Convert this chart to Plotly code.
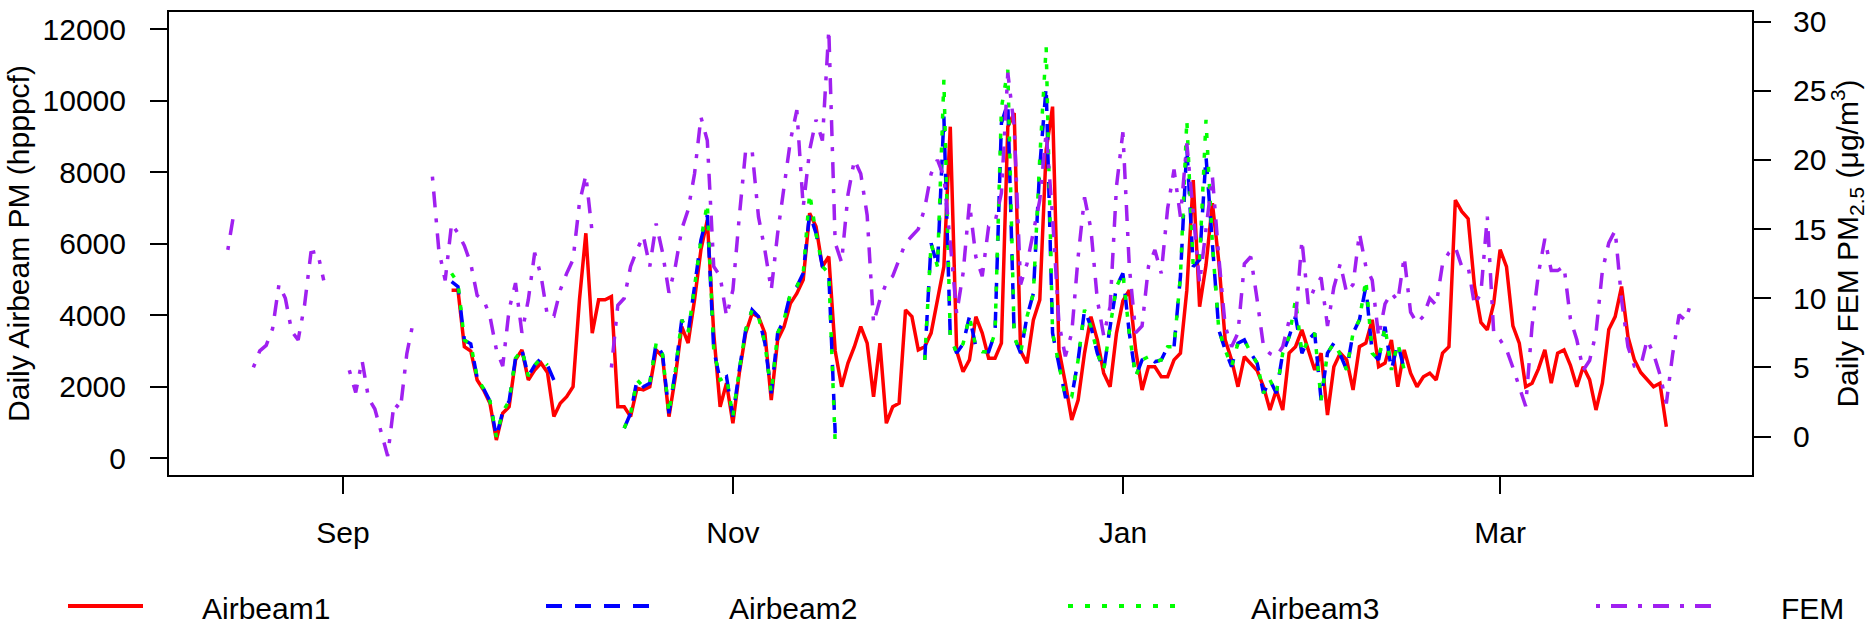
import pandas as pd
import plotly.graph_objects as go

# ---------------- data (daily means) ----------------
fem_start = "2016-08-14"
fem_pm25 = [
    # Aug 14 - Aug 31
    13.5, 16.3, None, None, 5.0, 6.2, 6.6, 7.8, 11.0, 10.0, 7.6, 7.0, 9.5, 13.3, 13.4, 11.3, None, None,
    # Sep
    None, 4.8, 3.2, 5.5, 2.8, 2.0, 0.4, -1.4, 2.4, 2.0, 6.0, 8.3, None, None, 18.8, 13.5, 11.3, 15.4,
    14.7, 13.8, 12.5, 10.2, 9.9, 8.7, 6.3, 5.1, 9.2, 11.1, 7.5, 9.9,
    # Oct
    13.3, 11.6, 8.7, 8.7, 10.6, 11.8, 12.8, 16.9, 18.9, 14.7, None, None, 5.0, 9.5, 10.0, 12.3,
    13.5, 14.5, 12.3, 15.4, 13.3, 10.4, 12.3, 15.0, 16.4, 19.0, 23.1, 21.4, 12.3, 11.6, 8.7,
    # Nov
    10.6, 15.9, 20.7, 20.7, 15.9, 13.5, 10.6, 14.7, 18.1, 21.4, 23.6, 16.6, 20.7, 22.9, 21.4,
    29.4, 14.0, 12.6, 17.5, 20.0, 19.0, 16.0, 8.2, 9.9, 11.1, 11.6, 12.8, 14.0, 14.5, 15.0,
    # Dec
    16.5, 19.0, 20.0, 18.8, 14.0, 8.9, 11.8, 16.9, 13.0, 11.6, 15.2, 15.5, 17.6, 26.3, 22.4,
    11.0, 12.5, 14.7, 17.1, 22.0, 15.9, 8.2, 5.8, 7.5, 13.0, 17.3, 15.0, 9.9, 7.3, 9.4, 18.1,
    # Jan
    22.0, 12.3, 7.5, 8.0, 12.3, 13.5, 11.8, 16.5, 19.3, 15.9, 21.2, 16.0, 11.1, 15.0, 18.8,
    13.0, 8.0, 6.5, 7.5, 12.5, 13.0, 9.9, 6.5, 6.0, 5.8, 6.5, 8.4, 8.4, 14.2, 9.6, 10.8,
    # Feb
    11.5, 8.0, 10.8, 12.5, 10.4, 11.0, 14.7, 12.3, 11.3, 7.2, 9.6, 10.4, 9.8, 13.0, 9.0,
    8.2, 8.7, 10.0, 9.5, 12.5, 13.3, 13.7, 12.3, 12.3, 9.5, 10.4, 15.9, 7.5,
    # Mar
    7.0, 6.3, 5.0, 3.6, 2.2, 8.0, 11.8, 14.3, 12.0, 12.0, 12.3, 8.5, 7.0, 4.8, 5.5, 7.5,
    12.0, 14.0, 14.9, 9.9, 6.5, 5.1, 5.1, 7.0, 6.0, 4.5, 2.4, 6.0, 8.8, 8.4, 9.9,
]

airbeam_start = "2016-09-18"
airbeam1 = [
    # Sep 18 - 30
    4700, 4700, 3120, 3000, 2190, 1910, 1540, 510, 1260, 1440, 2750, 3030, 2190,
    # Oct
    2470, 2660, 2400, 1165, 1540, 1720, 2000, 4430, 6290, 3500, 4430, 4430, 4520, 1440, 1440,
    1165, 1960, 1910, 2000, 3030, 2840, 1165, 2280, 3680, 3220, 4430, 5830, 6660, 3500, 1440, 2100,
    # Nov
    980, 2380, 3500, 4050, 3960, 3500, 1630, 3310, 3680, 4330, 4610, 4990, 6850, 6480, 5360,
    5640, 3000, 2000, 2660, 3120, 3680, 3220, 1720, 3220, 980, 1440, 1540, 4150, 3960, 3030,
    # Dec
    3120, 3500, 4430, 5360, 9270, 3000, 2420, 2750, 3960, 3500, 2800, 2800, 3220, 9270, 9650,
    3000, 2660, 3870, 4430, 8620, 9830, 3030, 2100, 1070, 1630, 2940, 3960, 3310, 2380, 2000, 3500,
    # Jan
    4400, 4700, 3030, 1910, 2560, 2560, 2280, 2280, 2750, 2940, 4700, 7780, 4240, 5400, 7130,
    5500, 3310, 2750, 2000, 2840, 2650, 2450, 2000, 1350, 1910, 1350, 2940, 3120, 3590, 3030, 2470,
    # Feb
    2940, 1210, 2560, 2940, 2750, 1910, 3120, 3220, 3870, 2560, 2660, 3310, 2000, 3030, 2380,
    2000, 2280, 2380, 2190, 2940, 3120, 7220, 6900, 6700, 4800, 3800, 3590, 4330,
    # Mar 1 - 27
    5830, 5360, 3700, 3220, 2000, 2100, 2500, 3030, 2100, 2940, 3030, 2600, 2000, 2560, 2200,
    1350, 2100, 3600, 3960, 4800, 3400, 2750, 2400, 2190, 2000, 2100, 885,
]

airbeam2 = [
    # Sep 18 - 30
    4940, 4800, 3300, 3200, 2250, 1950, 1600, 600, 1300, 1600, 2800, 3030, 2300,
    # Oct
    2600, 2800, 2600, 2190, None, None, None, None, None, None, None, None, None, None,
    840, 1260, 2190, 2000, 2100, 3220, 2900, 1260, 2450, 3870, 3500, 4890, 6100, 6800, 3030, 2190, 2280,
    # Nov
    1165, 2470, 3590, 4150, 3960, 3220, 1820, 3500, 3870, 4610, 4800, 5170, 6850, 6290, 5360,
    5170, 700, None, None, None, None, None, None, None, None, None, None, None, None,
    # Dec
    None, 2750, 6010, 5360, 9550, 3400, 2940, 3200, 3960, 3120, 2980, 2980, 3500, 9370, 9930,
    3400, 2940, 3960, 4610, 8160, 10390, 3500, 2560, 1720, 1720, 2750, 4150, 3680, 2940, 2470, 3680,
    # Jan
    4800, 5170, 3500, 2280, 2750, 2840, 2700, 2750, 3120, 3120, 5080, 8710, 5360, 5550, 8440,
    6000, 3590, 3030, 2560, 3220, 3310, 2940, 2660, 1820, 2190, 1820, 2940, 3400, 3960, 2940, 3310,
    # Feb 1 - 15
    3500, 1630, 2940, 3220, 2900, 2470, 3500, 3870, 4800, 2940, 2750, 3680, 2470, 3220, 2470,
]

airbeam3 = [
    # Sep 18 - 30
    5170, 4900, 3300, 3200, 2250, 1950, 1600, 600, 1300, 1600, 2800, 3030, 2300,
    # Oct
    2600, 2800, 2600, None, None, None, None, None, None, None, None, None, None, None,
    840, 1260, 2190, 2000, 2100, 3220, 2900, 1260, 2450, 3870, 3500, 4890, 6100, 7130, 3030, 2190, 2280,
    # Nov
    1165, 2470, 3590, 4150, 3960, 3220, 1820, 3500, 3870, 4610, 4800, 5170, 7410, 6290, 5360,
    5170, 420, None, None, None, None, None, None, None, None, None, None, None, None,
    # Dec
    None, 2750, 6010, 5360, 10580, 3400, 2940, 3200, 3960, 3120, 2980, 2980, 3500, 9800, 10860,
    3400, 2940, 3960, 4610, 8400, 11510, 3500, 2560, 1720, 1720, 2750, 4150, 3680, 2940, 2470, 3680,
    # Jan
    4800, 5170, 3500, 2280, 2750, 2840, 2700, 2750, 3120, 3120, 5080, 9460, 5360, 5550, 9460,
    6000, 3590, 3030, 2560, 3220, 3310, 2940, 2660, 1820, 2190, 1820, 2940, 3400, 4430, 2940, 3310,
    # Feb 1 - 15
    3500, 1630, 2940, 3220, 2900, 2470, 3500, 3870, 4990, 2940, 2750, 3680, 2470, 3220, 2470,
]

month_ticks = ["2016-09-01", "2016-11-01", "2017-01-01", "2017-03-01"]
month_labels = ["Sep", "Nov", "Jan", "Mar"]
left_ticks = [0, 2000, 4000, 6000, 8000, 10000, 12000]
left_labels = ["0", "2000", "4000", "6000", "8000", "10000", "12000"]
right_ticks = [0, 5, 10, 15, 20, 25, 30]
right_labels = ["0", "5", "10", "15", "20", "25", "30"]

series_names = ["Airbeam1", "Airbeam2", "Airbeam3", "FEM"]
series_colors = ["#FF0000", "#0000FF", "#00FF00", "#A020F0"]
series_dash = ["solid", "16px,13px", "5px,12px", "4px,11px,16px,11px"]

# ---------------- figure ----------------
W, H = 1874, 627
L, R, T, B = 169, 122, 12, 152
FONT = "Liberation Sans, Arial, Helvetica, sans-serif"

fem_dates = pd.date_range(fem_start, periods=len(fem_pm25), freq="D")
ab1_dates = pd.date_range(airbeam_start, periods=len(airbeam1), freq="D")
ab2_dates = pd.date_range(airbeam_start, periods=len(airbeam2), freq="D")
ab3_dates = pd.date_range(airbeam_start, periods=len(airbeam3), freq="D")

fig = go.Figure()
for dates, vals, i, ax in [
    (ab1_dates, airbeam1, 0, "y"),
    (ab2_dates, airbeam2, 1, "y"),
    (ab3_dates, airbeam3, 2, "y"),
    (fem_dates, fem_pm25, 3, "y2"),
]:
    fig.add_trace(go.Scatter(
        x=dates, y=vals, name=series_names[i], mode="lines", yaxis=ax,
        connectgaps=False, showlegend=False,
        line=dict(color=series_colors[i], width=3.5, dash=series_dash[i]),
    ))

axis_common = dict(
    showgrid=False, zeroline=False, showline=True, linecolor="black", linewidth=2,
    ticks="outside", ticklen=17, tickwidth=2, tickcolor="black",
    tickfont=dict(family=FONT, size=30, color="black"), automargin=False,
)

fig.update_layout(
    width=W, height=H,
    margin=dict(l=L, r=R, t=T, b=B),
    paper_bgcolor="white", plot_bgcolor="white",
    font=dict(family=FONT, size=30, color="black"),
    xaxis=dict(
        type="date", range=["2016-08-04 19:12", "2017-04-09 09:36"],
        tickvals=month_ticks, ticktext=month_labels, mirror=True,
        ticklabelstandoff=13, **axis_common,
    ),
    yaxis=dict(
        range=[-467, 12476], tickvals=left_ticks, ticktext=left_labels, mirror=True,
        ticklabelstandoff=18,
        title=dict(text="Daily Airbeam PM (hpppcf)", font=dict(family=FONT, size=30, color="black"),
                   standoff=4),
        **axis_common,
    ),
    yaxis2=dict(
        range=[-2.77, 30.69], tickvals=right_ticks, ticktext=right_labels,
        overlaying="y", side="right",
        ticklabelstandoff=16,
        title=dict(text="Daily FEM PM<sub>2.5</sub> (μg/m<sup>3</sup>)",
                   font=dict(family=FONT, size=30, color="black"), standoff=10),
        **axis_common,
    ),
)

# ---------------- legend row along the bottom (as in the original) ----------------
plot_w = W - L - R
plot_h = H - T - B


def px_x(px):
    return (px - L) / plot_w


def px_y(py):
    return (H - B - py) / plot_h


legend_lines = [(68, 143), (546, 656), (1068, 1185), (1596, 1716)]
legend_text_x = [200, 727, 1249, 1779]
legend_y = 606
for i, name in enumerate(series_names):
    x0, x1 = legend_lines[i]
    fig.add_shape(type="line", xref="paper", yref="paper",
                  x0=px_x(x0), x1=px_x(x1), y0=px_y(legend_y), y1=px_y(legend_y),
                  line=dict(color=series_colors[i], width=4, dash=series_dash[i]))
    fig.add_annotation(xref="paper", yref="paper", x=px_x(legend_text_x[i]), y=px_y(legend_y + 2),
                       text=name, showarrow=False, xanchor="left", yanchor="middle",
                       font=dict(family=FONT, size=30, color="black"))

# the page's default 8px body margin would push the figure off the window
fig.write_html("out.html", config={"displayModeBar": False},
               post_script="document.body.style.margin='0';")
